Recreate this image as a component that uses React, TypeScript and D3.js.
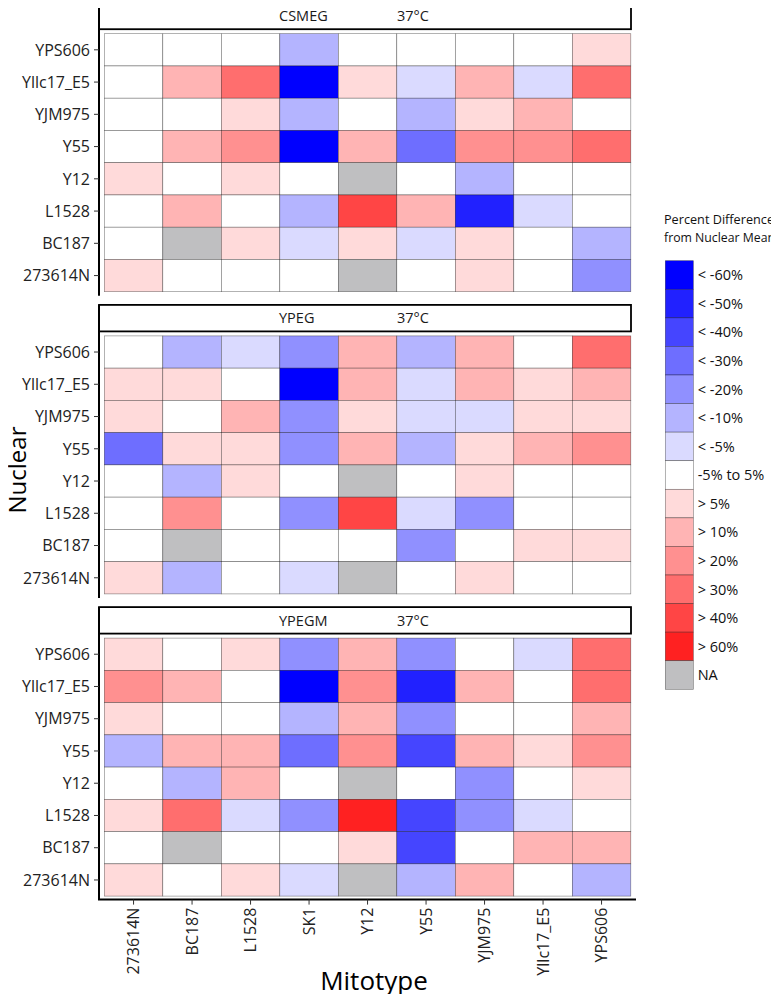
import React from "react";
import * as d3 from "d3";

const mitotypes = ["273614N", "BC187", "L1528", "SK1", "Y12", "Y55", "YJM975", "Yllc17_E5", "YPS606"];
const nuclears = ["YPS606", "Yllc17_E5", "YJM975", "Y55", "Y12", "L1528", "BC187", "273614N"];
const media = ["CSMEG", "YPEG", "YPEGM"];
const temperature = "37°C";

// Percent difference from nuclear mean; rows = nuclear (top to bottom), columns = mitotype
const csmeg: (number | null)[][] = [
  [1, -2, 3, -14, 0, 2, -1, 4, 8],
  [2, 14, 36, -68, 7, -8, 13, -7, 34],
  [-3, 1, 8, -12, 2, -13, 6, 12, -1],
  [4, 13, 24, -66, 16, -33, 26, 22, 35],
  [7, 3, 8, -2, null, 1, -14, 0, 2],
  [-1, 15, 4, -13, 44, 14, -55, -6, 3],
  [0, null, 6, -8, 7, -7, 8, 2, -12],
  [6, -2, 1, 3, null, -3, 7, 4, -23],
];
const ypeg: (number | null)[][] = [
  [2, -14, -8, -24, 13, -12, 14, 3, 33],
  [7, 8, -1, -64, 16, -7, 15, 8, 13],
  [6, 2, 12, -26, 9, -8, -6, 7, 6],
  [-34, 8, 7, -22, 14, -13, 8, 16, 24],
  [1, -15, 9, 3, null, -2, 7, 0, 4],
  [-2, 23, 0, -25, 45, -9, -27, 2, -3],
  [3, null, -1, 2, 4, -24, 1, 9, 6],
  [8, -16, 4, -7, null, 0, 7, 2, 1],
];
const ypegm: (number | null)[][] = [
  [7, 3, 6, -26, 14, -22, -2, -8, 37],
  [26, 15, 1, -70, 24, -56, 13, 4, 34],
  [8, -1, 2, -15, 16, -28, 3, -4, 14],
  [-16, 14, 12, -36, 22, -47, 13, 7, 25],
  [0, -13, 14, 4, null, 2, -24, -3, 8],
  [9, 32, -6, -23, 66, -44, -25, -7, 1],
  [3, null, 2, -1, 7, -46, 4, 15, 13],
  [6, -4, 8, -8, null, -14, 16, 2, -17],
];
const panelData = [csmeg, ypeg, ypegm];

const thresholds = [-60, -50, -40, -30, -20, -10, -5, 5, 10, 20, 30, 40, 60];
const binColors = [
  "#0000FF", "#2121FF", "#4545FF", "#6E6EFF", "#9090FF", "#B4B4FF", "#DADAFF",
  "#FFFFFF",
  "#FFDADA", "#FFB4B4", "#FF9090", "#FF6E6E", "#FF4545", "#FF2121",
];
const naColor = "#BFBFC1";
const legendLabels = [
  "< -60%", "< -50%", "< -40%", "< -30%", "< -20%", "< -10%", "< -5%",
  "-5% to 5%",
  "> 5%", "> 10%", "> 20%", "> 30%", "> 40%", "> 60%", "NA",
];
const legendTitle = ["Percent Difference", "from Nuclear Mean"];

const FONT = "'Open Sans', 'DejaVu Sans', sans-serif";

export default function App() {
  const W = 779, H = 1002;
  const color = d3.scaleThreshold<number, string>().domain(thresholds).range(binColors);
  const x = d3.scaleBand<string>().domain(mitotypes).range([104.3, 630.8]).padding(0);
  const axisX = 99;
  const stripRight = 631;
  const panelStep = 302.2;
  const stripTop0 = 2.7;
  const stripH = 26.5;
  const tileOffset = 31;
  const tileH = 258;
  const lastTileBottom = stripTop0 + 2 * panelStep + tileOffset + tileH;
  const xAxisY = lastTileBottom + 3.5;

  const legendY = d3.scaleBand<string>().domain(legendLabels).range([260.7, 689.3]);

  return (
    <div style={{ margin: "-8px" }}>
      <svg width={W} height={H} style={{ display: "block", fontFamily: FONT }}>
        <rect x={0} y={0} width={W} height={H} fill="#fff" />
        {media.map((m, pi) => {
          const stripTop = stripTop0 + pi * panelStep;
          const tileTop = stripTop + tileOffset;
          const y = d3.scaleBand<string>().domain(nuclears).range([tileTop, tileTop + tileH]);
          const data = panelData[pi];
          const axisBottom = pi === 2 ? xAxisY : tileTop + tileH + 4;
          return (
            <g key={m}>
              {/* strip */}
              <rect x={axisX} y={stripTop} width={stripRight - axisX} height={stripH}
                fill="#fff" stroke="#000" strokeWidth={1.8} />
              <text x={279} y={stripTop + stripH / 2} dy="0.36em" fontSize={14.5} fill="#1a1a1a">{m}</text>
              <text x={397} y={stripTop + stripH / 2} dy="0.36em" fontSize={14.5} fill="#1a1a1a">{temperature}</text>
              {/* tiles */}
              {nuclears.map((n, ri) =>
                mitotypes.map((mt, ci) => {
                  const v = data[ri][ci];
                  return (
                    <rect key={n + mt} x={x(mt)} y={y(n)} width={x.bandwidth()} height={y.bandwidth()}
                      fill={v === null ? naColor : color(v)} stroke="rgba(0,0,0,0.5)" strokeWidth={0.6} />
                  );
                })
              )}
              {/* y axis */}
              <line x1={axisX} x2={axisX} y1={stripTop} y2={axisBottom} stroke="#000" strokeWidth={2} />
              {nuclears.map((n) => {
                const cy = (y(n) as number) + y.bandwidth() / 2;
                return (
                  <g key={n}>
                    <line x1={axisX - 5} x2={axisX} y1={cy} y2={cy} stroke="#333" strokeWidth={1} />
                    <text x={axisX - 9} y={cy} dy="0.36em" textAnchor="end" fontSize={16} fill="#222">{n}</text>
                  </g>
                );
              })}
            </g>
          );
        })}
        {/* x axis */}
        <line x1={axisX - 1} x2={636} y1={xAxisY} y2={xAxisY} stroke="#000" strokeWidth={2} />
        {mitotypes.map((mt) => {
          const cx = (x(mt) as number) + x.bandwidth() / 2;
          return (
            <g key={mt}>
              <line x1={cx} x2={cx} y1={xAxisY} y2={xAxisY + 5} stroke="#333" strokeWidth={1} />
              <text transform={`translate(${cx},${xAxisY + 8}) rotate(-90)`} dy="0.36em" textAnchor="end"
                fontSize={16} fill="#222">{mt}</text>
            </g>
          );
        })}
        {/* axis titles */}
        <text x={374} y={990} textAnchor="middle" fontSize={26} fill="#000">Mitotype</text>
        <text transform="translate(26,470) rotate(-90)" textAnchor="middle" fontSize={24} fill="#000">Nuclear</text>
        {/* legend */}
        <text x={664} y={224} fontSize={12.5} fill="#111" textLength={110} lengthAdjust="spacingAndGlyphs">{legendTitle[0]}</text>
        <text x={664} y={242} fontSize={12.5} fill="#111" textLength={111} lengthAdjust="spacingAndGlyphs">{legendTitle[1]}</text>
        {legendLabels.map((lab, i) => {
          const ly = legendY(lab) as number;
          return (
            <g key={lab}>
              <rect x={665.3} y={ly} width={28} height={legendY.bandwidth()}
                fill={i < binColors.length ? binColors[i] : naColor} stroke="rgba(0,0,0,0.5)" strokeWidth={0.6} />
              <text x={697.7} y={ly + legendY.bandwidth() / 2} dy="0.36em" fontSize={14.5} fill="#111">{lab}</text>
            </g>
          );
        })}
      </svg>
    </div>
  );
}
